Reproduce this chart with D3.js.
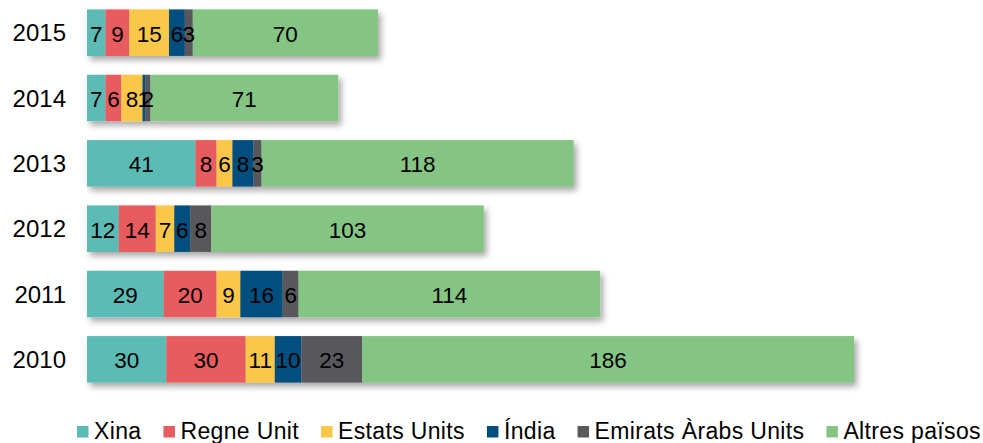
<!DOCTYPE html>
<html>
<head>
<meta charset="utf-8">
<script src="https://cdn.jsdelivr.net/npm/d3@7"></script>
<style>
  body { margin: 0; background: #fff; }
  svg { display: block; font-family: "Liberation Sans", Arial, sans-serif; }
</style>
</head>
<body>
<script>
const years = ["2015", "2014", "2013", "2012", "2011", "2010"];
const countries = ["Xina", "Regne Unit", "Estats Units", "Índia", "Emirats Àrabs Units", "Altres països"];
const xina = [7, 7, 41, 12, 29, 30];
const regneUnit = [9, 6, 8, 14, 20, 30];
const estatsUnits = [15, 8, 6, 7, 9, 11];
const india = [6, 1, 8, 6, 16, 10];
const emirats = [3, 2, 3, 8, 6, 23];
const altres = [70, 71, 118, 103, 114, 186];
const colors = ["#5bbcb5", "#e85c61", "#fac748", "#00507f", "#59595b", "#85c584"];

const width = 983;
const height = 443;

const series = [xina, regneUnit, estatsUnits, india, emirats, altres];
const rows = years.map((y, i) => {
  const r = { year: y };
  countries.forEach((c, j) => r[c] = series[j][i]);
  return r;
});

const stack = d3.stack().keys(countries)(rows);

const x = d3.scaleLinear()
  .domain([0, 290])
  .range([87, 854]);

const y = d3.scaleBand()
  .domain(years)
  .range([0, 392])
  .paddingInner(0.288)
  .paddingOuter(0.144);

const color = d3.scaleOrdinal().domain(countries).range(colors);

const svg = d3.select("body").append("svg")
  .attr("width", width)
  .attr("height", height);

const filter = svg.append("defs").append("filter")
  .attr("id", "shadow")
  .attr("x", "-5%").attr("y", "-20%")
  .attr("width", "115%").attr("height", "160%");
filter.append("feDropShadow")
  .attr("dx", 3).attr("dy", 4)
  .attr("stdDeviation", 3)
  .attr("flood-color", "#000")
  .attr("flood-opacity", 0.35);

// one group per bar so the shadow sits under the whole bar
const bars = svg.append("g").selectAll("g")
  .data(rows)
  .join("g")
  .attr("filter", "url(#shadow)");

bars.selectAll("rect")
  .data(r => stack.map(s => ({ key: s.key, seg: s.find(d => d.data.year === r.year) })))
  .join("rect")
  .attr("x", d => x(d.seg[0]))
  .attr("y", d => y(d.seg.data.year))
  .attr("width", d => x(d.seg[1]) - x(d.seg[0]))
  .attr("height", y.bandwidth())
  .attr("fill", d => color(d.key));

const labels = svg.append("g")
  .attr("font-size", 22.5)
  .attr("text-anchor", "middle");

stack.forEach(s => {
  labels.append("g").selectAll("text")
    .data(s)
    .join("text")
    .attr("x", d => (x(d[0]) + x(d[1])) / 2)
    .attr("y", d => y(d.data.year) + y.bandwidth() / 2 + 9)
    .text(d => d[1] - d[0]);
});

svg.append("g").selectAll("text")
  .data(years)
  .join("text")
  .attr("x", 66)
  .attr("y", d => y(d) + y.bandwidth() / 2 + 8.5)
  .attr("text-anchor", "end")
  .attr("font-size", 24)
  .text(d => d);

// legend
const legend = svg.append("g").attr("font-size", 23);
let lx = 77;
countries.forEach((c) => {
  const item = legend.append("g").attr("transform", `translate(${lx},0)`);
  item.append("rect")
    .attr("x", 0).attr("y", 426)
    .attr("width", 11.5).attr("height", 11.5)
    .attr("fill", color(c));
  const t = item.append("text")
    .attr("x", 17).attr("y", 439)
    .attr("letter-spacing", 0.35)
    .text(c);
  lx += 17 + t.node().getComputedTextLength() + 22;
});
</script>
</body>
</html>
